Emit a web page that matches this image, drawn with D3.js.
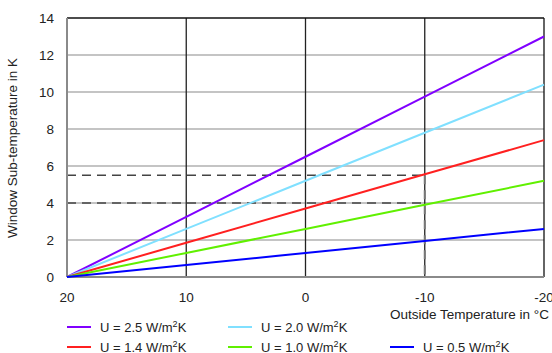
<!DOCTYPE html>
<html><head><meta charset="utf-8">
<script src="https://cdn.jsdelivr.net/npm/d3@7"></script>
<style>body{margin:0;background:#fff}svg{display:block;font-family:"Liberation Sans",Arial,sans-serif}</style>
</head><body><svg id="c" width="552" height="353"></svg>
<script>
const temps = [20, 10, 0, -10, -20];
const seriesNames = ["U = 2.5 W/m²K","U = 2.0 W/m²K","U = 1.4 W/m²K","U = 1.0 W/m²K","U = 0.5 W/m²K"];
const uLabels = ["2.5","2.0","1.4","1.0","0.5"];
const u25 = [0, 3.25, 6.5, 9.75, 13.0];
const u20 = [0, 2.6, 5.2, 7.8, 10.4];
const u14 = [0, 1.85, 3.7, 5.55, 7.4];
const u10 = [0, 1.3, 2.6, 3.9, 5.2];
const u05 = [0, 0.65, 1.3, 1.95, 2.6];
const colors = ["#8000ff","#80e0ff","#ff2020","#60f000","#0000ff"];
const yTicks = [0,2,4,6,8,10,12,14];
const xTicks = [20,10,0,-10,-20];
const refLines = [{y:5.5, x:-10},{y:4, x:-10}];

const svg = d3.select("#c");
const x = d3.scaleLinear().domain([20,-20]).range([67,544]);
const y = d3.scaleLinear().domain([0,14]).range([277,18]);
const FS = 13.5;

svg.append("g").selectAll("line").data(yTicks.filter(d=>d>0&&d<14)).join("line")
  .attr("x1",x(20)).attr("x2",x(-20)).attr("y1",d=>y(d)).attr("y2",d=>y(d))
  .attr("stroke","#8a8a8a").attr("stroke-width",1.2);
svg.append("g").selectAll("line").data([10,0,-10]).join("line")
  .attr("x1",d=>x(d)).attr("x2",d=>x(d)).attr("y1",y(0)).attr("y2",y(14))
  .attr("stroke","#222").attr("stroke-width",1.3);
svg.append("line").attr("x1",x(20)).attr("x2",x(-20)).attr("y1",y(14)).attr("y2",y(14)).attr("stroke","#111").attr("stroke-width",1.3);
svg.append("line").attr("x1",x(-20)).attr("x2",x(-20)).attr("y1",y(14)).attr("y2",y(0)).attr("stroke","#111").attr("stroke-width",1.3);

refLines.forEach(r=>{
  svg.append("line").attr("x1",x(20)).attr("x2",x(r.x)).attr("y1",y(r.y)).attr("y2",y(r.y))
    .attr("stroke","#444").attr("stroke-width",1.6).attr("stroke-dasharray","9,6");
});
svg.append("line").attr("x1",x(-10)).attr("x2",x(-10)).attr("y1",y(5.5)).attr("y2",y(0))
  .attr("stroke","#777").attr("stroke-width",2).attr("stroke-dasharray","9,6");

svg.append("line").attr("x1",x(20)).attr("x2",x(20)).attr("y1",y(14)).attr("y2",y(0)).attr("stroke","#8a8a8a").attr("stroke-width",2);
svg.append("line").attr("x1",x(20)).attr("x2",x(-20)).attr("y1",y(0)).attr("y2",y(0)).attr("stroke","#8a8a8a").attr("stroke-width",2);

const data = [u25,u20,u14,u10,u05];
const line = d3.line().x((d,i)=>x(temps[i])).y(d=>y(d));
data.forEach((s,i)=>{
  svg.append("path").attr("d",line(s)).attr("fill","none").attr("stroke",colors[i]).attr("stroke-width",2);
});

svg.append("g").selectAll("text").data(yTicks).join("text")
  .attr("x",54).attr("y",d=>y(d)+5).attr("text-anchor","end").attr("font-size",FS).attr("fill","#222").text(d=>d);
svg.append("g").selectAll("text").data(xTicks).join("text")
  .attr("x",d=>x(d)).attr("y",302).attr("text-anchor","middle").attr("font-size",FS).attr("fill","#222").text(d=>d);

svg.append("text").attr("transform","translate(17,148) rotate(-90)").attr("text-anchor","middle")
  .attr("font-size",FS).attr("fill","#222").text("Window Sub-temperature in K");
svg.append("text").attr("x",549).attr("y",319).attr("text-anchor","end").attr("font-size",FS).attr("fill","#222").text("Outside Temperature in °C");

const legPos = [[67,327],[228,327],[67,347],[228,347],[390,347]];
legPos.forEach((p,i)=>{
  svg.append("line").attr("x1",p[0]).attr("x2",p[0]+24).attr("y1",p[1]).attr("y2",p[1]).attr("stroke",colors[i]).attr("stroke-width",2);
  const t = svg.append("text").attr("x",p[0]+33).attr("y",p[1]+4.5).attr("font-size",13).attr("fill","#222");
  t.append("tspan").text("U = "+uLabels[i]+" W/m");
  t.append("tspan").attr("font-size",9).attr("dy",-5).text("2");
  t.append("tspan").attr("dy",5).text("K");
});
</script></body></html>
